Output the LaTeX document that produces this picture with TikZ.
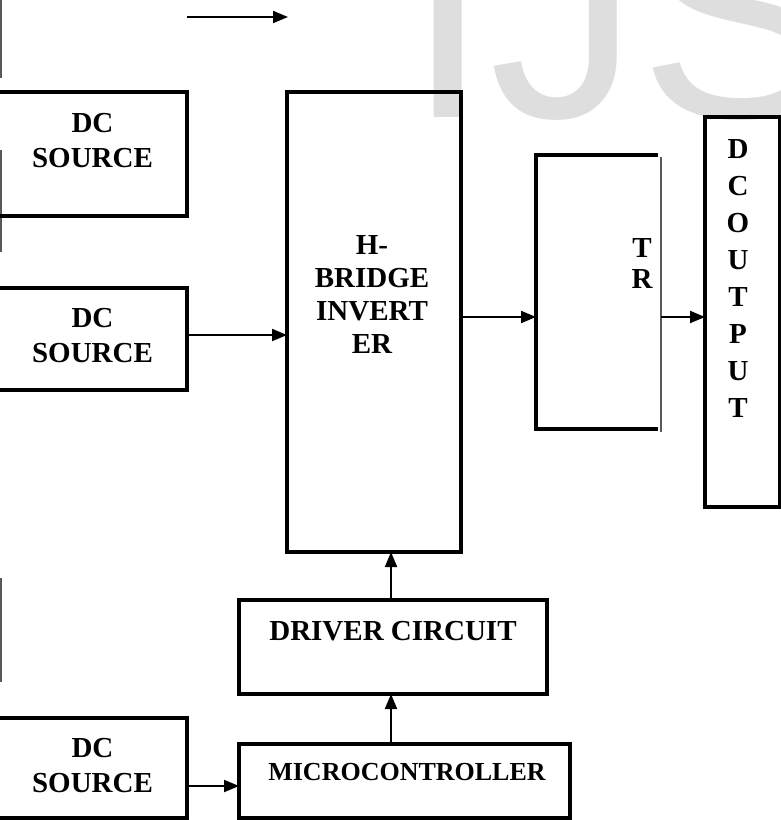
\documentclass[tikz,border=0pt]{standalone}
\usepackage{fontspec}
\setmainfont{Liberation Serif}
\newfontfamily\wmfont{Liberation Sans}
\usetikzlibrary{arrows.meta}

\tikzstyle{blok} = [draw, line width=2pt, inner sep=0pt, outer sep=0pt]
\tikzstyle{tekst} = [font=\bfseries\fontsize{14.5}{17.5}\selectfont, align=center, inner sep=0pt, anchor=base]
\tikzstyle{pijl} = [line width=1pt, -{Triangle[length=7.5pt,width=6pt]}]
\tikzstyle{rest} = [draw=black!65, line width=0.9pt]

\begin{document}
\begin{tikzpicture}[x=0.5pt,y=-0.5pt]
\useasboundingbox (0,0) rectangle (781,820);
\node[text=black!13, font=\wmfont\fontsize{150}{150}\selectfont, anchor=base west, inner sep=0pt] (wm) at (406,117) {IJS};

\draw[rest] (1,0) -- (1,78);
\draw[rest] (1,150) -- (1,252);
\draw[rest] (1,578) -- (1,682);

\node[blok, minimum width=98.5pt, minimum height=62pt] (src1) at (88.5,154) {};
\node[blok, minimum width=98.5pt, minimum height=51pt] (src2) at (88.5,339) {};
\node[blok, minimum width=98.5pt, minimum height=50pt] (src3) at (88.5,768) {};
\node[blok, minimum width=87pt, minimum height=230pt] (hb) at (374,322) {};
\node[inner sep=0pt, outer sep=0pt, minimum width=61pt, minimum height=137pt] (tr) at (597,292) {};
\node[blok, minimum width=37.5pt, minimum height=195pt] (out) at (742.5,312) {};
\node[blok, minimum width=154pt, minimum height=47pt] (drv) at (393,647) {};
\node[blok, minimum width=165.5pt, minimum height=37pt] (mcu) at (404.5,781) {};

\draw[line width=2pt] (tr.north east) -- (tr.north west) -- (tr.south west) -- (tr.south east);
\draw[rest] ([xshift=1.5pt,yshift=-1pt]tr.north east) -- ([xshift=1.5pt,yshift=-1.5pt]tr.south east);

\node[tekst] (t1) at (92.5,167) {DC\\SOURCE};
\node[tekst] (t2) at (92.5,362) {DC\\SOURCE};
\node[tekst] (t3) at (92.5,792) {DC\\SOURCE};
\node[tekst, font=\bfseries\fontsize{14.5}{16.5}\selectfont] (thb) at (372,353) {H-\\BRIDGE\\INVERT\\ER};
\node[tekst, font=\bfseries\fontsize{14.5}{15.5}\selectfont] (ttr) at (642,288) {T\\R};
\node[tekst, font=\bfseries\fontsize{14.5}{18.5}\selectfont] (tout) at (738,417) {D\\C\\O\\U\\T\\P\\U\\T};
\node[tekst] (tdrv) at (393,640) {DRIVER CIRCUIT};
\node[tekst, font=\bfseries\fontsize{13}{15}\selectfont] (tmcu) at (407,780) {MICROCONTROLLER};

\coordinate (p1) at (187,17);
\coordinate (p2) at (288,17);
\coordinate (trout) at (661,317);
\draw[pijl] (p1) -- (p2);
\draw[pijl] (src2.east |- 0,335) -- (hb.west |- 0,335);
\draw[pijl] (hb.east |- 0,317) -- (tr.west |- 0,317);
\draw[pijl] (trout) -- (trout -| out.west);
\draw[pijl] (drv.north -| 391,0) -- (hb.south -| 391,0);
\draw[pijl] (mcu.north -| 391,0) -- (drv.south -| 391,0);
\draw[pijl] (src3.east |- 0,786) -- (mcu.west |- 0,786);
\end{tikzpicture}
\end{document}
